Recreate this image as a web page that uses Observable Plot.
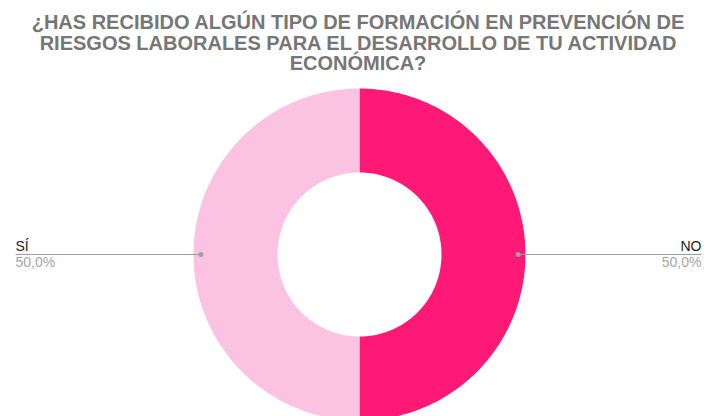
<!DOCTYPE html>
<html>
<head>
<meta charset="utf-8">
<script src="https://cdn.jsdelivr.net/npm/d3@7"></script>
<script src="https://cdn.jsdelivr.net/npm/@observablehq/plot@0.6"></script>
<style>
  html, body { margin: 0; padding: 0; background: #fff; overflow: hidden; }
  #wrap { position: relative; width: 704px; height: 416px; overflow: hidden; }
  #title {
    position: absolute; left: 6px; top: 12px; width: 704px;
    text-align: center; font-family: "Liberation Sans", Arial, sans-serif;
    font-weight: bold; font-size: 20px; line-height: 20.5px; color: #767676;
  }
  #chart { position: absolute; left: 0; top: 0; }
</style>
</head>
<body>
<div id="wrap">
  <div id="chart"></div>
  <div id="title">¿HAS RECIBIDO ALGÚN TIPO DE FORMACIÓN EN PREVENCIÓN DE<br>RIESGOS LABORALES PARA EL DESARROLLO DE TU ACTIVIDAD<br>ECONÓMICA?</div>
</div>
<script>
// ---- data ----
const categories = ["NO", "SÍ"];
const values = [50, 50];
const colors = ["#fe1977", "#fcc2e2"];

// ---- layout (pixels) ----
const W = 704, H = 416;
const cx = 359, cy = 254, R = 166;       // donut centre and outer radius
const innerRatio = 82 / 166;             // hole radius / outer radius
const anchorRatio = 0.956;               // leader dot radius / outer radius
const labelLeftPx = 15, labelRightPx = 701;

const data = categories.map((c, i) => ({cat: c, value: values[i]}));
const total = d3.sum(values);
const arcs = d3.pie().sort(null).value(d => d.value)(data);

// polygon outline of each slice (sampled along its arcs)
const pts = [];
const steps = 120;
for (const a of arcs) {
  for (let k = 0; k <= steps; k++) {
    const t = a.startAngle + (a.endAngle - a.startAngle) * k / steps;
    pts.push({cat: a.data.cat, x: Math.sin(t), y: Math.cos(t)});
  }
  for (let k = steps; k >= 0; k--) {
    const t = a.startAngle + (a.endAngle - a.startAngle) * k / steps;
    pts.push({cat: a.data.cat, x: innerRatio * Math.sin(t), y: innerRatio * Math.cos(t)});
  }
}

const fmt = v => (v / total * 100).toFixed(1).replace(".", ",") + "%";
const labels = arcs.map(a => {
  const mid = (a.startAngle + a.endAngle) / 2;
  const side = Math.sin(mid) >= 0 ? 1 : -1;
  return {
    cat: a.data.cat,
    pct: fmt(a.data.value),
    ax: anchorRatio * Math.sin(mid),
    ay: anchorRatio * Math.cos(mid),
    lx: ((side > 0 ? labelRightPx : labelLeftPx) - cx) / R,
    side
  };
});
const left = labels.filter(d => d.side < 0);
const right = labels.filter(d => d.side > 0);

const font = "Liberation Sans, Arial, sans-serif";

const chart = Plot.plot({
  width: W, height: H,
  margin: 0,
  style: {fontFamily: font, background: "#fff", overflow: "hidden"},
  x: {domain: [-cx / R, (W - cx) / R], axis: null},
  y: {domain: [-(H - cy) / R, cy / R], axis: null},
  color: {domain: categories, range: colors},
  marks: [
    Plot.line(pts, {x: "x", y: "y", z: "cat", fill: "cat", stroke: "none", curve: "linear-closed", clip: true}),
    Plot.link(labels, {x1: "ax", y1: "ay", x2: "lx", y2: "ay", stroke: "#9e9e9e", strokeWidth: 1}),
    Plot.dot(labels, {x: "ax", y: "ay", r: 2.5, fill: "#a0a0a0", stroke: "none"}),
    Plot.text(left, {x: "lx", y: "ay", text: "cat", textAnchor: "start", lineAnchor: "bottom", dy: -4, fontSize: 14, fill: "#222"}),
    Plot.text(left, {x: "lx", y: "ay", text: "pct", textAnchor: "start", lineAnchor: "bottom", dy: 12.5, fontSize: 14, fill: "#a6a6a6"}),
    Plot.text(right, {x: "lx", y: "ay", text: "cat", textAnchor: "end", lineAnchor: "bottom", dy: -4, fontSize: 14, fill: "#222"}),
    Plot.text(right, {x: "lx", y: "ay", text: "pct", textAnchor: "end", lineAnchor: "bottom", dy: 12.5, fontSize: 14, fill: "#a6a6a6"})
  ]
});
document.getElementById("chart").appendChild(chart);
</script>
</body>
</html>
